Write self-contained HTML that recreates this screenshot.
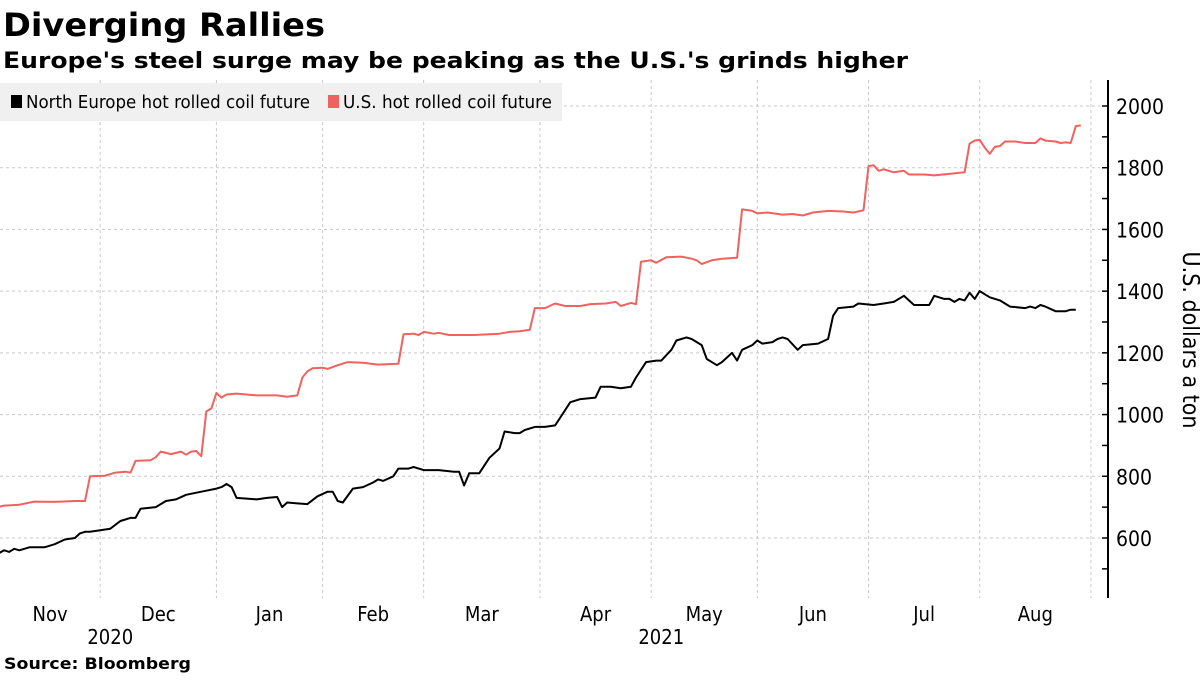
<!DOCTYPE html>
<html><head><meta charset="utf-8"><style>
body{margin:0;background:#fff;width:1200px;height:675px;overflow:hidden;font-family:"Liberation Sans","DejaVu Sans",sans-serif}
svg text{font-family:"DejaVu Sans Condensed","Liberation Sans",sans-serif}
</style></head><body>
<svg id="c" width="1200" height="675" xmlns="http://www.w3.org/2000/svg">
<text x="3" y="36" font-size="32" font-weight="bold" fill="#000" textLength="322" lengthAdjust="spacingAndGlyphs" style="font-family:'DejaVu Sans','Liberation Sans',sans-serif">Diverging Rallies</text>
<text x="3" y="68" font-size="22" font-weight="bold" fill="#000" textLength="905" lengthAdjust="spacingAndGlyphs" style="font-family:'DejaVu Sans','Liberation Sans',sans-serif">Europe's steel surge may be peaking as the U.S.'s grinds higher</text>
<g id="grid"></g>
<g id="series"></g>
<g id="axis"></g>
<rect x="0" y="83" width="562" height="38" fill="#f0f0f0"/>
<g><rect x="11" y="95" width="11" height="13" fill="#000"/><text x="26" y="108" font-size="18" fill="#000" textLength="284" lengthAdjust="spacingAndGlyphs">North Europe hot rolled coil future</text></g>
<g><rect x="328" y="95" width="11" height="13" fill="#f0625e"/><text x="343" y="108" font-size="18" fill="#000" textLength="209" lengthAdjust="spacingAndGlyphs">U.S. hot rolled coil future</text></g>
<text x="1183" y="340" font-size="23" fill="#000" text-anchor="middle" transform="rotate(90 1183 340)">U.S. dollars a ton</text>
<text x="4" y="669" font-size="16" font-weight="bold" fill="#000" textLength="187" lengthAdjust="spacingAndGlyphs" style="font-family:'DejaVu Sans','Liberation Sans',sans-serif">Source: Bloomberg</text>
</svg>
<script>
const usTradingDays=[0,2,5,8,12,16,18,19,22,24,26,27,28,31,32,33,35,37,38,39,40,41,42,43,44,45,46,48,52,56,58,60,61,62,63,65,66,68,70,73,76,80,81,83,84,85,87,88,90,95,100,102,104,106,107,109,111,113,116,118,121,123,124,126,127,128,130,131,133,136,138,139,140,142,144,147,148,150,151,153,156,158,160,162,165,168,170,172,173,174,175,176,178,180,181,184,186,189,192,193,194,195,196,197,198,199,200,202,204,206,207,208,210,211,212,213,214,215];
const usValues=[698,705,708,718,717,720,720,800,802,812,815,812,850,852,862,880,872,880,870,880,882,865,1010,1020,1070,1055,1065,1068,1062,1062,1058,1062,1120,1140,1150,1152,1148,1160,1170,1168,1162,1165,1260,1262,1258,1268,1262,1265,1258,1258,1262,1268,1270,1275,1345,1345,1360,1352,1352,1358,1360,1365,1352,1362,1358,1495,1500,1492,1510,1512,1505,1500,1488,1500,1505,1508,1665,1660,1652,1655,1648,1650,1645,1655,1660,1658,1655,1662,1805,1808,1790,1795,1785,1790,1778,1778,1775,1780,1785,1878,1888,1890,1865,1845,1868,1870,1885,1885,1880,1880,1895,1888,1885,1880,1882,1880,1935,1937];
const euTradingDays=[0,2,3,4,5,7,10,12,14,16,17,18,19,21,23,25,27,28,29,32,34,36,38,41,44,45,46,47,48,52,54,56,57,58,60,62,64,66,67,68,69,71,73,75,76,77,79,80,82,83,85,88,91,92,93,94,96,98,100,101,103,104,105,107,109,111,112,114,116,119,120,122,124,126,127,129,131,132,134,135,137,138,140,141,143,144,146,147,148,150,151,152,154,155,156,157,159,160,163,165,166,167,170,171,174,176,178,180,182,185,186,188,189,190,191,192,193,194,195,197,199,200,201,204,205,206,207,208,210,212,213,214];
const euValues=[542,560,555,565,560,570,570,580,595,600,615,620,620,625,630,655,665,665,695,700,720,725,740,750,760,765,775,765,730,725,730,733,700,715,712,710,735,750,750,720,715,760,765,780,790,785,800,825,825,830,820,820,815,815,770,810,810,860,890,945,940,940,950,960,960,965,990,1040,1050,1055,1090,1090,1085,1090,1120,1170,1175,1175,1210,1240,1250,1245,1225,1180,1160,1170,1200,1175,1210,1225,1240,1230,1235,1245,1250,1245,1210,1225,1230,1245,1320,1345,1350,1360,1355,1360,1365,1385,1355,1355,1385,1375,1375,1365,1375,1370,1395,1375,1400,1380,1370,1360,1350,1345,1350,1345,1355,1350,1335,1335,1340,1340];
const monthLabels=["Nov","Dec","Jan","Feb","Mar","Apr","May","Jun","Jul","Aug"];
const monthStartDays=[0,21,44,65,85,108,130,151,173,195,217];
const yearLabels=["2020","2021"];
const yearDays=[23,132];
const yTicks=[600,800,1000,1200,1400,1600,1800,2000];

const NS="http://www.w3.org/2000/svg";
const X=i=>-6+i*5.055;
const Y=v=>538-(v-600)*0.30857;
function mk(tag,attrs,parent){const e=document.createElementNS(NS,tag);for(const k in attrs)e.setAttribute(k,attrs[k]);parent.appendChild(e);return e;}
const grid=document.getElementById('grid'),series=document.getElementById('series'),axis=document.getElementById('axis');
yTicks.forEach(v=>{
  const l=mk('line',{x1:0,x2:1100,y1:Y(v),y2:Y(v),stroke:'#c8c8c8','stroke-dasharray':'3,3','stroke-width':1},grid);
  
  
  const t=mk('text',{x:1116,y:Y(v)+8,'font-size':21,fill:'#000'},axis);
  t.textContent=v;
  
  
});
for(let v=500;v<=2000;v+=100){
  const tk=mk('line',{x1:1102,x2:1108,y1:Y(v),y2:Y(v),stroke:'#000','stroke-width':1.5},axis);
  
  
}
const ax=mk('line',{x1:1108,x2:1108,y1:80,y2:598,stroke:'#000','stroke-width':2},axis);


monthStartDays.forEach((d,i)=>{
  if(i>0){
    const l=mk('line',{x1:X(d),x2:X(d),y1:80,y2:598,stroke:'#c8c8c8','stroke-dasharray':'3,3','stroke-width':1},grid);
    
    
  }
  if(i<monthLabels.length){
    const mid=(Math.max(0,X(d))+X(monthStartDays[i+1]))/2;
    const t=mk('text',{x:mid,y:621,'font-size':20,fill:'#000','text-anchor':'middle'},axis);
    t.textContent=monthLabels[i];
    
    
  }
});
yearLabels.forEach((y,k)=>{
  const t=mk('text',{x:X(yearDays[k]),y:644,'font-size':20,fill:'#000','text-anchor':'middle'},axis);
  t.textContent=y;
  
  
});
function line(days,vals,color,name){
  const d=days.map((x,i)=>(i?'L':'M')+X(x).toFixed(1)+','+Y(vals[i]).toFixed(1)).join('');
  const p=mk('path',{d:d,fill:'none',stroke:color,'stroke-width':2,'stroke-linejoin':'round'},series);
  
  
}
line(usTradingDays,usValues,'#f0625e','us-hrc-line');
line(euTradingDays,euValues,'#000','north-europe-hrc-line');
</script>
</body></html>
